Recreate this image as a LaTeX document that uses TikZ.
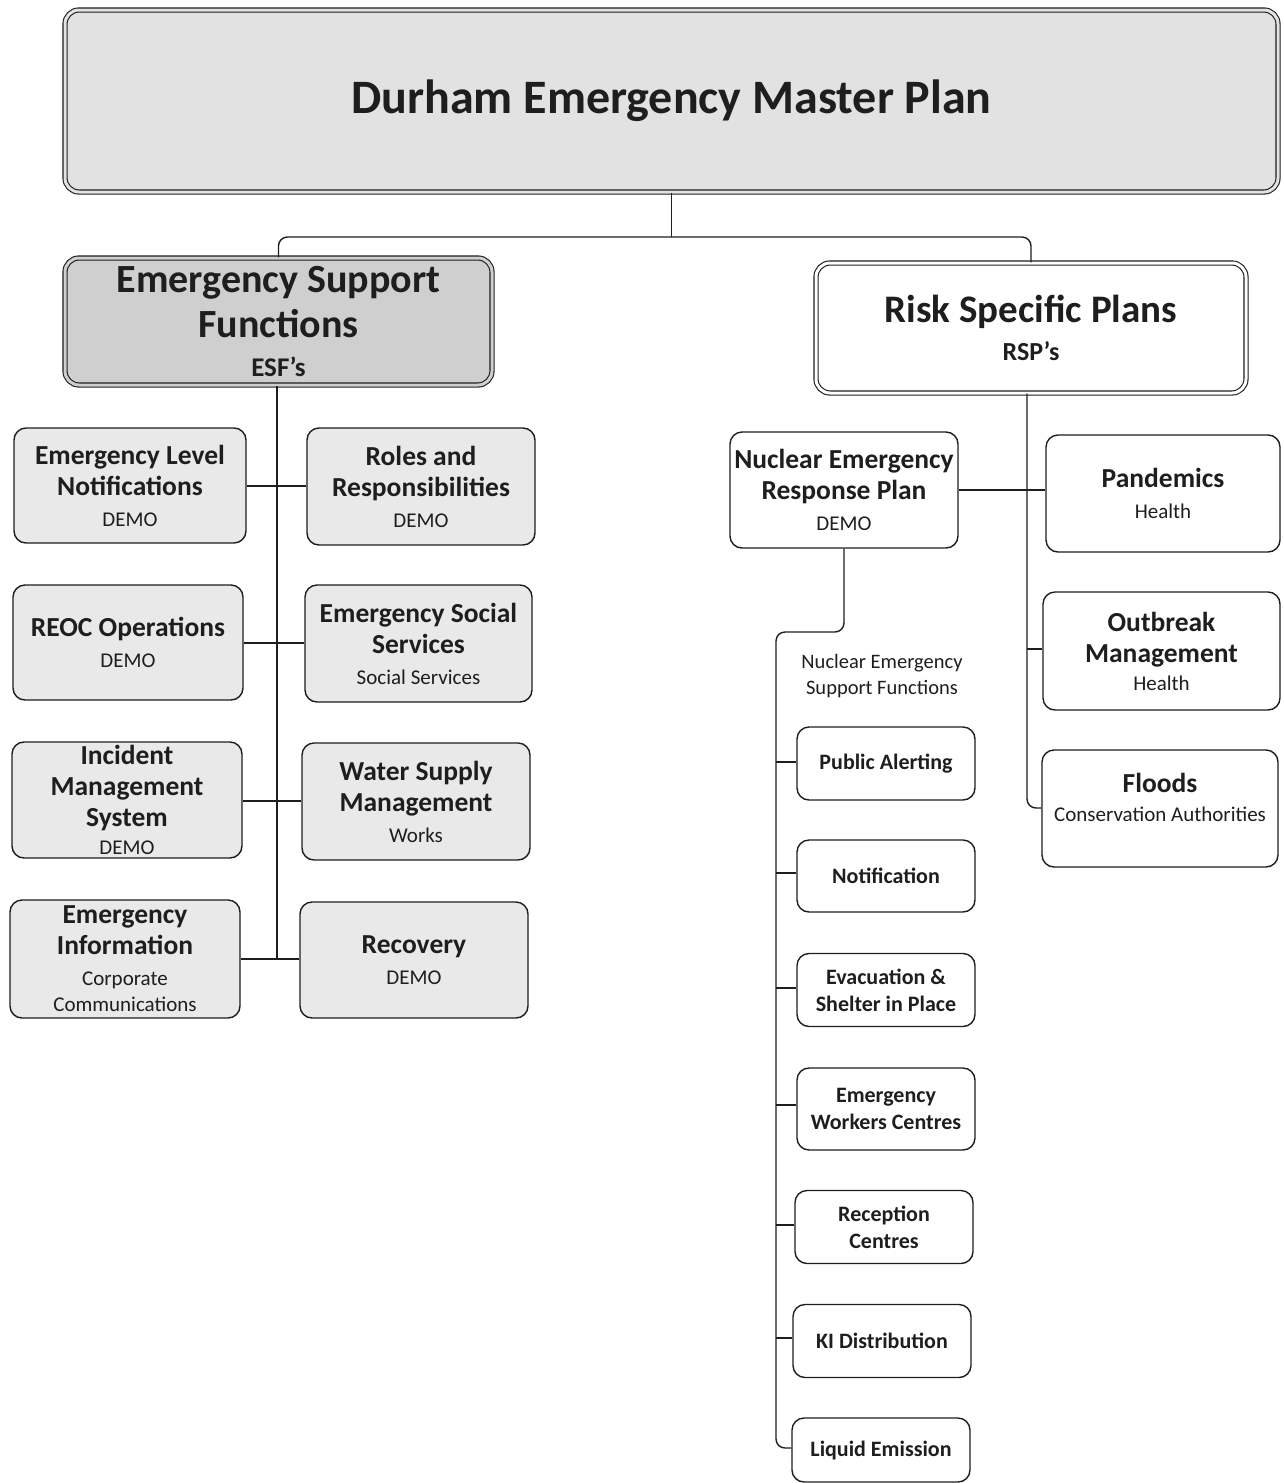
\documentclass[tikz,border=0pt]{standalone}
\usepackage{fontspec}
\setmainfont{Carlito}
\definecolor{ink}{HTML}{1E1E1E}
\definecolor{mastergray}{HTML}{E2E2E2}
\definecolor{esfgray}{HTML}{CFCFCF}
\definecolor{boxgray}{HTML}{E9E9E9}
\newcommand\boxhd{\fontsize{27.5}{31}\selectfont\bfseries}
\newcommand\boxsub{\fontsize{21}{28}\selectfont\mdseries}
\newcommand\nhd{\fontsize{22}{27}\selectfont\bfseries}
\begin{document}
\begin{tikzpicture}[x=1pt,y=-1pt,
  conn/.style={line width=1.4pt, draw=ink, rounded corners=9pt},
  dblbox/.style={draw=ink, double=#1, double distance=3pt, line width=1.1pt,
    fill=#1, rounded corners=14pt, align=center, inner sep=0pt, text=ink},
  lbox/.style={draw=ink, line width=1.4pt, fill=boxgray, rounded corners=12pt,
    align=center, inner sep=0pt, text=ink, font=\boxhd,
    minimum width=230pt, minimum height=116pt},
  rbox/.style={lbox, fill=white},
  nbox/.style={draw=ink, line width=1.4pt, fill=white, rounded corners=12pt,
    align=center, inner sep=0pt, text=ink, font=\nhd,
    minimum width=178pt, minimum height=73pt}]
\useasboundingbox[fill=white] (0,0) rectangle (1284,1483);

% top level
\node[dblbox=mastergray, minimum width=1213pt, minimum height=182pt,
  font=\fontsize{48}{56}\selectfont\bfseries] (master) at (671.5,101)
  {Durham Emergency Master Plan};

\node[dblbox=esfgray, minimum width=427pt, minimum height=127pt,
  font=\fontsize{40}{45}\selectfont\bfseries] (esf) at (278.5,321.5)
  {Emergency Support\\Functions\\[-6pt]{\fontsize{27}{30}\selectfont ESF’s}};

\node[dblbox=white, minimum width=430pt, minimum height=130pt,
  font=\fontsize{39}{42}\selectfont\bfseries] (rsp) at (1031,328)
  {Risk Specific Plans\\[-4pt]{\fontsize{26}{30}\selectfont RSP’s}};

\coordinate (mj) at (671.5,237);
\draw[conn] (master.south) -- (mj);
\draw[conn] (esf.north) -- (esf.north |- mj) -- (rsp.north |- mj) -- (rsp.north);

% ESF children
\node[lbox, minimum width=232pt, minimum height=115pt] (eln) at (130,485.5)
  {Emergency Level\\Notifications\\{\boxsub DEMO}};
\node[lbox, minimum width=228pt, minimum height=117pt] (rr) at (421,486.5)
  {Roles and\\Responsibilities\\{\boxsub DEMO}};
\node[lbox, minimum height=115pt] (reoc) at (128,642.5)
  {REOC Operations\\{\boxsub DEMO}};
\node[lbox, minimum width=227pt, minimum height=117pt] (ess) at (418.5,643.5)
  {Emergency Social\\Services\\{\boxsub Social Services}};
\node[lbox] (ims) at (127,800)
  {Incident\\Management\\System\\[-3pt]{\boxsub DEMO}};
\node[lbox, minimum width=228pt, minimum height=117pt] (wsm) at (416,801.5)
  {Water Supply\\Management\\{\boxsub Works}};
\node[lbox, minimum height=118pt] (ei) at (125,959)
  {Emergency\\Information\\{\boxsub Corporate}\\[-5pt]{\boxsub Communications}};
\node[lbox, minimum width=228pt] (rec) at (414,960)
  {Recovery\\{\boxsub DEMO}};

\coordinate (esfend) at (277,958);
\draw[conn] (esf.south -| esfend) -- (esfend);
\foreach \l/\r/\yy in {eln/rr/486, reoc/ess/643, ims/wsm/801, ei/rec/959}{
  \draw[conn] (\l.east |- 0,\yy) -- (277,\yy) -- (\r.west |- 0,\yy);
}

% RSP children
\node[rbox, minimum width=228pt] (nerp) at (844,490)
  {Nuclear Emergency\\Response Plan\\{\boxsub DEMO}};
\node[rbox, minimum width=234pt, minimum height=117pt] (pan) at (1163,493.5)
  {Pandemics\\{\boxsub Health}};
\node[rbox, minimum width=237pt, minimum height=118pt] (outb) at (1161.5,651)
  {Outbreak\\Management\\[-3pt]{\boxsub Health}};
\node[rbox, minimum width=236pt, minimum height=117pt] (flood) at (1160,808.5)
  {Floods\\[-2pt]{\boxsub Conservation Authorities}\\[-8pt]\mbox{}};

\draw[conn] (rsp.south -| 1027,0) -- (1027,808) -- (flood.west |- 0,808);
\draw[conn] (nerp.east |- 0,490) -- (pan.west |- 0,490);
\draw[conn] (1027,649) -- (outb.west |- 0,649);

% Nuclear ESFs
\node[text=ink, align=center, font=\fontsize{20.5}{26}\selectfont] (nesflbl) at (882,676)
  {Nuclear Emergency\\Support Functions};

\node[nbox] (pa) at (886,763.5) {Public Alerting};
\node[nbox, minimum height=72pt] (noti) at (886,876) {Notification};
\node[nbox] (evac) at (886,990) {Evacuation \&\\Shelter in Place};
\node[nbox, minimum height=82pt] (ewc) at (886,1109) {Emergency\\Workers Centres};
\node[nbox] (recc) at (884,1227) {Reception\\Centres};
\node[nbox] (ki) at (882,1341) {KI Distribution};
\node[nbox, minimum height=64pt] (liq) at (881,1450) {Liquid Emission};

\coordinate (nj) at (776,632);
\draw[conn] (nerp.south) |- (nj) -- (776,1448) -- (liq.west |- 0,1448);
\foreach \n/\yy in {pa/762, noti/873, evac/988, ewc/1105, recc/1225, ki/1338}{
  \draw[conn] (776,\yy) -- (\n.west |- 0,\yy);
}
\end{tikzpicture}
\end{document}
